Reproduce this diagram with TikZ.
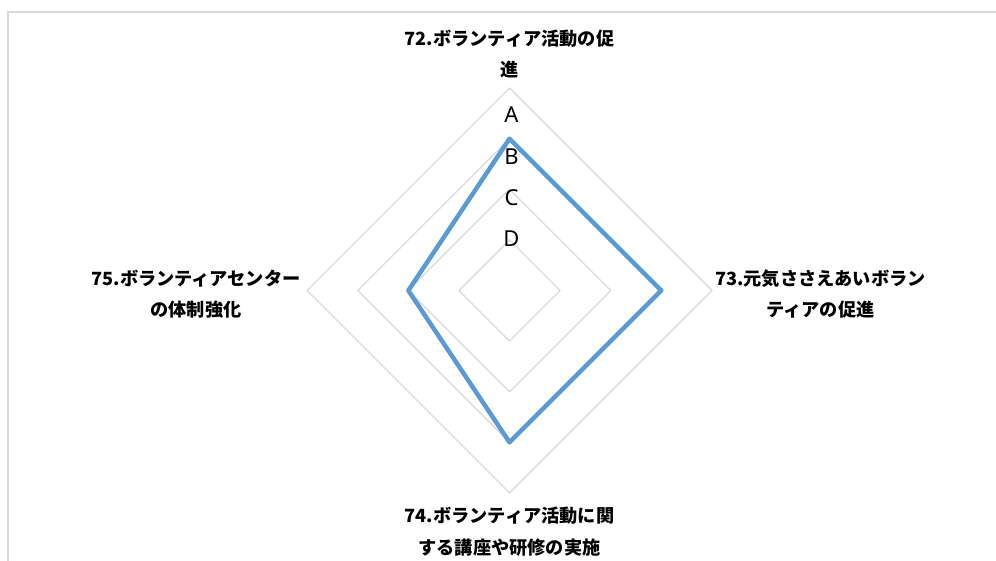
\documentclass[tikz,border=0pt]{standalone}
\usepackage{fontspec}
\usetikzlibrary{calc}
\newfontfamily\jp{Noto Sans CJK JP}
\newfontfamily\lat{Noto Sans}
\definecolor{gridgray}{HTML}{D9D9D9}
\definecolor{serblue}{HTML}{5B9BD5}
\tikzset{
  gridline/.style={draw=gridgray, line width=1.2pt},
  frameline/.style={draw=gridgray, line width=1.5pt},
  serline/.style={draw=serblue, line width=4.5pt, line join=round},
  axislabel/.style={font=\jp\bfseries\fontsize{18.2}{31.5}\selectfont, align=center, inner sep=0pt},
  ticklabel/.style={font=\lat\fontsize{22}{24}\selectfont, inner sep=0pt}
}
\begin{document}
\begin{tikzpicture}[x=1pt,y=-1pt]
\useasboundingbox (0,0) rectangle (996,561);
\fill[white] (0,0) rectangle (996,561);
% frame
\draw[frameline] (8,561) -- (8,12) -- (996,12);
% center
\coordinate (c) at (509.5,290.5);
% grid rings
\foreach \i in {1,2,3,4}{
  \draw[gridline] ($(c)+(0,-50.6*\i)$) -- ($(c)+(50.6*\i,0)$) -- ($(c)+(0,50.6*\i)$) -- ($(c)+(-50.6*\i,0)$) -- cycle;
}
% data points
\coordinate (p72) at ($(c)+(0,-151.8)$);
\coordinate (p73) at ($(c)+(151.8,0)$);
\coordinate (p74) at ($(c)+(0,151.8)$);
\coordinate (p75) at ($(c)+(-101.2,0)$);
\draw[serline] (p72) -- (p73) -- (p74) -- (p75) -- cycle;
% tick labels
\node[ticklabel] (tA) at (511.5,115) {A};
\node[ticklabel] (tB) at (511.5,157) {B};
\node[ticklabel] (tC) at (511.5,198) {C};
\node[ticklabel] (tD) at (511.5,239) {D};
% axis labels
\node[axislabel] (l72) at (509.5,54) {72.ボランティア活動の促\\進};
\node[axislabel] (l73) at (820.5,294) {73.元気ささえあいボラン\\ティアの促進};
\node[axislabel] (l74) at (509.5,531.5) {74.ボランティア活動に関\\する講座や研修の実施};
\node[axislabel] (l75) at (196,294) {75.ボランティアセンター\\の体制強化};
\end{tikzpicture}
\end{document}
